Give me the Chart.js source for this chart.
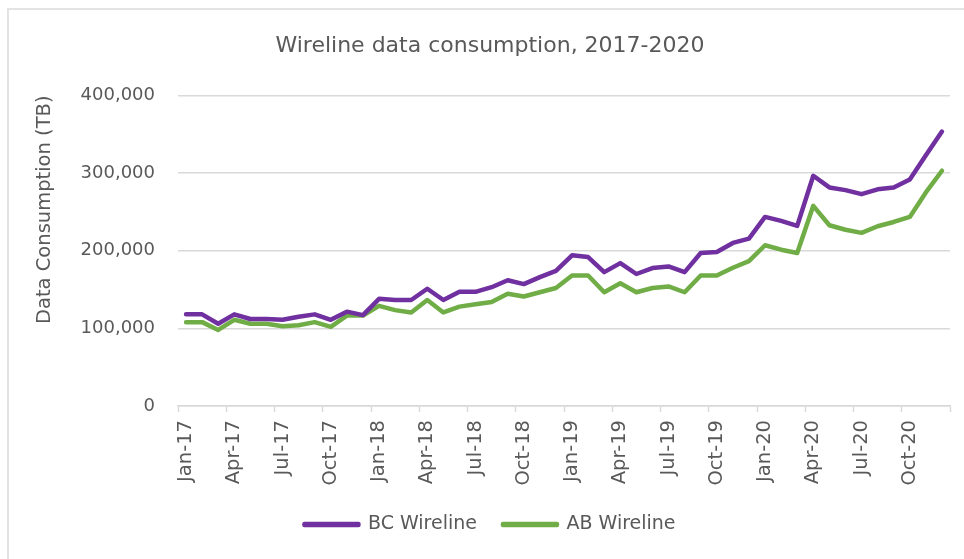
<!DOCTYPE html>
<html>
<head>
<meta charset="utf-8">
<script src="https://cdn.jsdelivr.net/npm/chart.js@4.4.1/dist/chart.umd.min.js"></script>
<style>
  html, body { margin: 0; padding: 0; background: #fff; }
  #frame {
    position: absolute; left: 7px; top: 8px; width: 957px; height: 551px;
    border-left: 2px solid #e3e3e3; border-top: 2px solid #e3e3e3;
  }
  #chart { position: absolute; left: 0; top: 0; }
</style>
</head>
<body>
<div id="frame"></div>
<canvas id="chart" width="964" height="559"></canvas>
<script>
// Categories: one point per month, Jan 2017 - Dec 2020
const years = ['17', '18', '19', '20'];
const months = ['Jan', 'Feb', 'Mar', 'Apr', 'May', 'Jun', 'Jul', 'Aug', 'Sep', 'Oct', 'Nov', 'Dec'];
const labels = [];
years.forEach(y => months.forEach(m => labels.push(m + '-' + y)));

// Data consumption (TB)
const bcWireline = [
    118000, 118000, 106000, 118000, 112000, 112000, 111000, 115000, 118000, 111000, 121500, 117000,
    138000, 136500, 136500, 151000, 136500, 147000, 147000, 153000, 162000, 157000, 166000, 174000,
    194000, 191800, 172400, 184000, 170000, 177600, 179700, 172400, 197000, 198300, 210000, 215500,
    243500, 238400, 232000, 296500, 281500, 278000, 272800, 279000, 281500, 291800, 323000, 353400
];
const abWireline = [
    108000, 108000, 98000, 111000, 106000, 106000, 102600, 104000, 108000, 102000, 116400, 116400,
    129000, 123500, 120500, 136500, 120500, 128000, 131000, 134000, 144500, 141000, 146500, 152000,
    168000, 168000, 146500, 158000, 146500, 152000, 154000, 146500, 168000, 168000, 178000, 186600,
    207000, 201300, 197000, 257800, 232800, 227000, 223000, 231500, 237000, 243500, 275000, 303000
];

const textColor = '#595959';
const gridColor = '#d9d9d9';
const fontFamily = '"DejaVu Sans", sans-serif';

// tick marks on the x axis only every quarter (and at the far end)
const quarterColor = ctx => (ctx.index === undefined || ctx.index % 3 === 0) ? gridColor : 'rgba(0,0,0,0)';

new Chart(document.getElementById('chart'), {
    type: 'line',
    data: {
        labels: labels,
        datasets: [{
            label: 'BC Wireline',
            data: bcWireline,
            borderColor: '#7030a0',
            backgroundColor: '#7030a0',
            borderWidth: 4.5,
            pointRadius: 0,
            tension: 0,
            borderJoinStyle: 'round',
            borderCapStyle: 'round'
        }, {
            label: 'AB Wireline',
            data: abWireline,
            borderColor: '#70ad47',
            backgroundColor: '#70ad47',
            borderWidth: 4.5,
            pointRadius: 0,
            tension: 0,
            borderJoinStyle: 'round',
            borderCapStyle: 'round'
        }]
    },
    options: {
        responsive: false,
        animation: false,
        devicePixelRatio: 1,
        layout: {
            padding: { left: 30, right: 14, top: 0, bottom: 15 }
        },
        plugins: {
            title: {
                display: true,
                text: 'Wireline data consumption, 2017-2020',
                color: textColor,
                font: { family: fontFamily, size: 22, weight: 'normal' },
                padding: { top: 33, bottom: 36 }
            },
            legend: {
                position: 'bottom',
                labels: {
                    color: textColor,
                    font: { family: fontFamily, size: 19 },
                    boxWidth: 54,
                    boxHeight: 1,
                    padding: 26
                }
            },
            tooltip: { enabled: false }
        },
        scales: {
            x: {
                offset: true,
                grid: {
                    offset: true,
                    drawOnChartArea: false,
                    drawTicks: true,
                    tickLength: 6,
                    tickColor: quarterColor,
                    tickWidth: 1.5
                },
                border: { display: true, color: gridColor, width: 1.5 },
                ticks: {
                    autoSkip: false,
                    minRotation: 90,
                    maxRotation: 90,
                    padding: 8,
                    color: textColor,
                    font: { family: fontFamily, size: 19.5 },
                    callback: (value, index) => index % 3 === 0 ? labels[index] : ''
                },
                afterFit: scale => {
                    scale.height = 83;
                    scale.paddingRight = 0;
                }
            },
            y: {
                min: 0,
                max: 400000,
                grid: { color: gridColor, lineWidth: 1.5, drawTicks: false },
                border: { display: false },
                ticks: {
                    stepSize: 100000,
                    padding: 23,
                    color: textColor,
                    font: { family: fontFamily, size: 18 },
                    callback: v => v.toLocaleString('en-US')
                },
                title: {
                    display: true,
                    text: 'Data Consumption (TB)',
                    align: 'end',
                    color: textColor,
                    font: { family: fontFamily, size: 19.5 },
                    padding: { top: 3, bottom: 0 }
                },
                afterFit: scale => { scale.width = 148; }
            }
        }
    }
});
</script>
</body>
</html>
